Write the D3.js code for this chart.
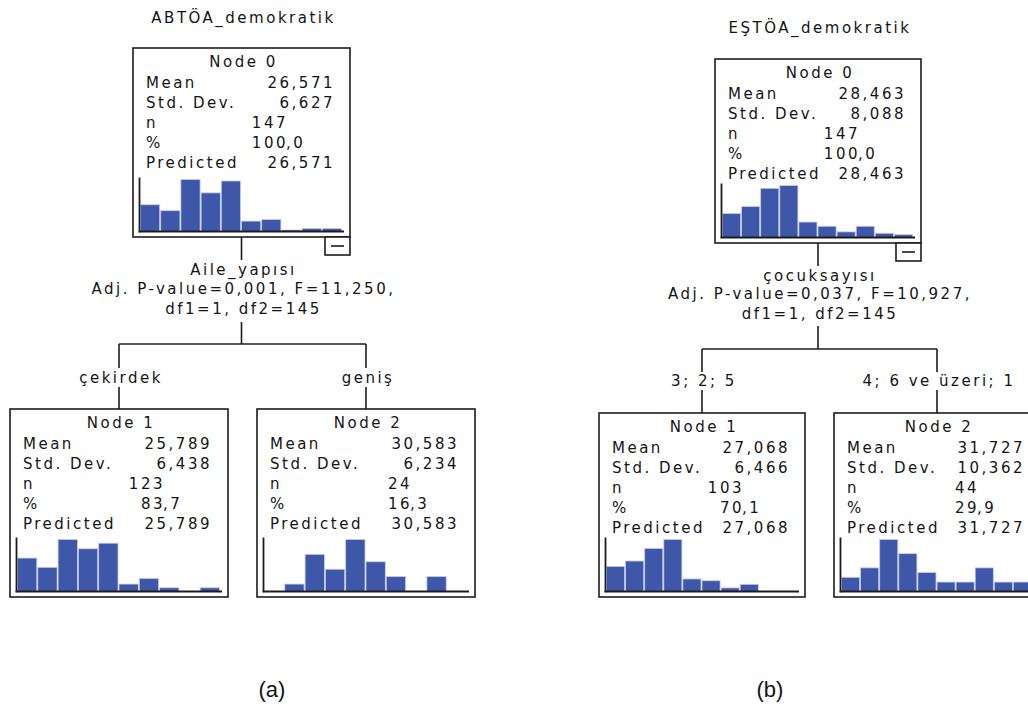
<!DOCTYPE html>
<html><head><meta charset="utf-8">
<script src="https://cdn.jsdelivr.net/npm/d3@7"></script>
<style>
html,body{margin:0;padding:0;background:#fff;}
svg text{font-family:"DejaVu Sans",sans-serif;font-size:15px;letter-spacing:2.5px;fill:#141414;}
svg text.panel{font-family:"Liberation Sans",Arial,sans-serif;font-size:22px;letter-spacing:0;}
</style></head>
<body><svg id="c" width="1028" height="708"></svg>
<script>
// ---------- data ----------
const panelLabels = ["(a)", "(b)"];
const titles = ["ABTÖA_demokratik", "EŞTÖA_demokratik"];
const splitVars = ["Aile_yapısı", "çocuksayısı"];
const splitStats = ["Adj. P-value=0,001, F=11,250,", "Adj. P-value=0,037, F=10,927,"];
const splitDf = ["df1=1, df2=145", "df1=1, df2=145"];
const branchLabelsA = ["çekirdek", "geniş"];
const branchLabelsB = ["3; 2; 5", "4; 6 ve üzeri; 1"];
const nodeNames = ["Node 0", "Node 1", "Node 2"];
const statLabels = ["Mean", "Std. Dev.", "n", "%", "Predicted"];
const meanA = ["26,571", "25,789", "30,583"];
const sdA = ["6,627", "6,438", "6,234"];
const nA = ["147", "123", "24"];
const pctA = ["100,0", "83,7", "16,3"];
const meanB = ["28,463", "27,068", "31,727"];
const sdB = ["8,088", "6,466", "10,362"];
const nB = ["147", "103", "44"];
const pctB = ["100,0", "70,1", "29,9"];
const histA0 = [18, 14, 35, 26, 34, 7, 8, 1, 2, 2];
const histA1 = [18, 13, 28, 23, 26, 4, 7, 2, 0, 2];
const histA2 = [0, 1, 5, 3, 7, 4, 2, 0, 2, 0];
const histB0 = [17, 22, 35, 37, 11, 8, 4, 8, 3, 2];
const histB1 = [14, 17, 24, 29, 7, 6, 2, 4, 0, 0];
const histB2 = [3, 5, 11, 8, 4, 2, 2, 5, 2, 2];
const binIndex = d3.range(10);

// ---------- layout ----------
const svg = d3.select("#c");
const ink = "#1c1c1c";
const barFill = "#3e57a8", barStroke = "#c3cbe8";

const trees = [
  {title: titles[0], titleY: 18, var: splitVars[0], stat: splitStats[0], df: splitDf[0],
   branches: branchLabelsA, mean: meanA, sd: sdA, n: nA, pct: pctA,
   hists: [histA0, histA1, histA2],
   boxes: [{x:133,y:48,w:217,h:189},{x:10,y:409,w:218,h:188},{x:257,y:409,w:218,h:188}],
   nCol: 155, valEnd: 200,
   yTxt: [270, 289, 309], yV1: 322, yH: 344, yLblTop: 368, yLbl: 378, yLblBot: 387,
   label: panelLabels[0], labelX: 272},
  {title: titles[1], titleY: 28, var: splitVars[1], stat: splitStats[1], df: splitDf[1],
   branches: branchLabelsB, mean: meanB, sd: sdB, n: nB, pct: pctB,
   hists: [histB0, histB1, histB2],
   boxes: [{x:715,y:59,w:206,h:184},{x:599,y:413,w:206,h:184},{x:834,y:413,w:206,h:184}],
   nCol: 145, valEnd: 189,
   yTxt: [276, 294, 314], yV1: 326, yH: 349, yLblTop: 372, yLbl: 381, yLblBot: 390,
   label: panelLabels[1], labelX: 770}
];

function line(g, x1, y1, x2, y2, w) {
  g.append("line").attr("x1", x1).attr("y1", y1).attr("x2", x2).attr("y2", y2)
    .attr("stroke", ink).attr("stroke-width", w || 1.6);
}

function drawNode(g, t, i) {
  const b = t.boxes[i];
  const ng = g.append("g");
  ng.append("rect").attr("x", b.x).attr("y", b.y).attr("width", b.w).attr("height", b.h)
    .attr("fill", "#fff").attr("stroke", ink).attr("stroke-width", 1.6);
  ng.append("text").attr("x", b.x + b.w / 2 + 2).attr("y", b.y + 14).attr("dy", "0.36em")
    .attr("text-anchor", "middle").text(nodeNames[i]);
  const vals = [t.mean[i], t.sd[i], t.n[i], t.pct[i], t.mean[i]];
  statLabels.forEach((lab, k) => {
    const y = b.y + 35 + k * 19.8;
    ng.append("text").attr("x", b.x + 13).attr("y", y).attr("dy", "0.36em").text(lab);
    if (k === 2 || k === 3) {
      const parts = vals[k].split(",");
      ng.append("text").attr("x", b.x + t.nCol).attr("y", y).attr("dy", "0.36em")
        .attr("text-anchor", "end").text(parts[0]);
      if (parts.length > 1)
        ng.append("text").attr("x", b.x + t.nCol - 2).attr("y", y).attr("dy", "0.36em")
          .text("," + parts[1]);
    } else {
      ng.append("text").attr("x", b.x + t.valEnd + 2).attr("y", y).attr("dy", "0.36em")
        .attr("text-anchor", "end").text(vals[k]);
    }
  });
  // histogram
  const counts = t.hists[i];
  const base = b.y + b.h - 5.5;
  const x = d3.scaleBand().domain(binIndex).range([b.x + 7, b.x + b.w - 8]).paddingInner(0);
  const y = d3.scaleLinear().domain([0, d3.max(counts)]).range([base, base - 52]);
  ng.selectAll("rect.bar").data(counts).join("rect").attr("class", "bar")
    .attr("x", (d, j) => x(j) + 0.5).attr("width", x.bandwidth() - 1)
    .attr("y", d => y(d)).attr("height", d => base - y(d))
    .attr("fill", barFill).attr("stroke", barStroke).attr("stroke-width", 0.8)
    .attr("visibility", d => d > 0 ? "visible" : "hidden");
  line(ng, b.x + 6.5, base - 54, b.x + 6.5, base + 0.8, 1.8);
  line(ng, b.x + 5.6, base, b.x + b.w - 6, base, 1.8);
}

trees.forEach(t => {
  const g = svg.append("g");
  const r = t.boxes[0], c1 = t.boxes[1], c2 = t.boxes[2];
  const cx = r.x + r.w / 2;
  g.append("text").attr("x", cx + 2).attr("y", t.titleY).attr("dy", "0.36em")
    .attr("text-anchor", "middle").text(t.title);
  // connectors
  line(g, cx, r.y + r.h, cx, t.yTxt[0] - 10);
  line(g, cx, t.yV1, cx, t.yH);
  const x1 = c1.x + c1.w / 2, x2 = c2.x + c2.w / 2;
  line(g, x1, t.yH, x2, t.yH);
  [x1, x2].forEach((xx, k) => {
    line(g, xx, t.yH, xx, t.yLblTop);
    line(g, xx, t.yLblBot, xx, k === 0 ? c1.y : c2.y);
    g.append("text").attr("x", xx + 2).attr("y", t.yLbl).attr("dy", "0.36em")
      .attr("text-anchor", "middle").text(t.branches[k]);
  });
  [t.var, t.stat, t.df].forEach((s, k) => {
    g.append("text").attr("x", cx + 2).attr("y", t.yTxt[k]).attr("dy", "0.36em")
      .attr("text-anchor", "middle").text(s);
  });
  drawNode(g, t, 0); drawNode(g, t, 1); drawNode(g, t, 2);
  // collapse toggle
  const tb = {x: r.x + r.w - 25, y: r.y + r.h, w: 25, h: 18};
  g.append("rect").attr("x", tb.x).attr("y", tb.y).attr("width", tb.w).attr("height", tb.h)
    .attr("fill", "#fff").attr("stroke", ink).attr("stroke-width", 1.6);
  line(g, tb.x + 6, tb.y + tb.h / 2, tb.x + tb.w - 6, tb.y + tb.h / 2, 1.6);
  // panel label
  svg.append("text").attr("class", "panel").attr("x", t.labelX).attr("y", 697)
    .attr("text-anchor", "middle").text(t.label);
});
</script></body></html>
